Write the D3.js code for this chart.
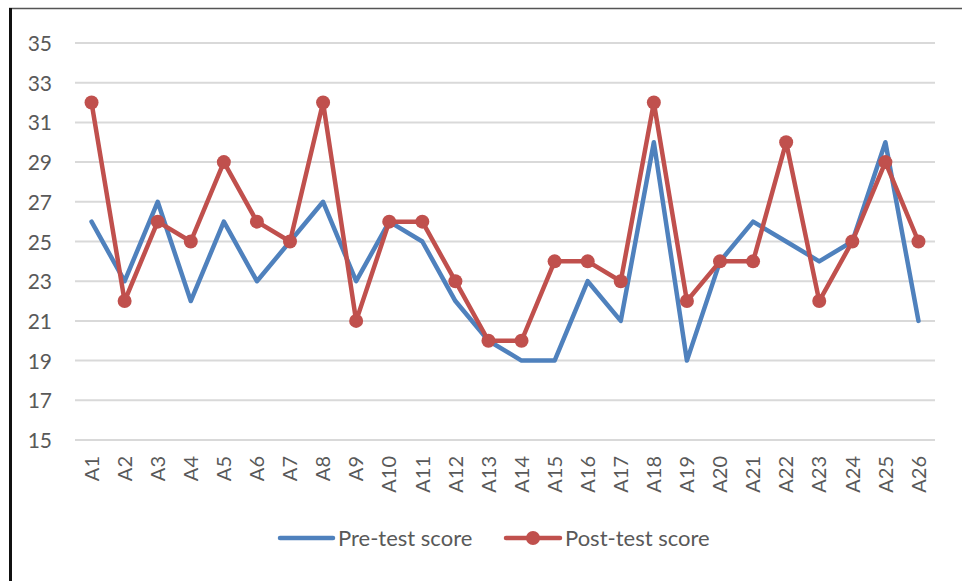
<!doctype html>
<html>
<head>
	<style>
		body{margin:0;background:#fff;}
		svg text{font-family:Lato, "Open Sans", sans-serif;fill:#595959;}
		.grid line{stroke:#d9d9d9;stroke-width:2;}
	</style>
</head>
<body>
	<div id="root"></div>
	<script src="https://d3js.org/d3.v7.min.js"></script>
	<script>
		var W = 962, H = 581;

		var categories = ['A1','A2','A3','A4','A5','A6','A7','A8','A9','A10','A11','A12','A13',
			'A14','A15','A16','A17','A18','A19','A20','A21','A22','A23','A24','A25','A26'];
		var preScores  = [26,23,27,22,26,23,25,27,23,26,25,22,20,19,19,23,21,30,19,24,26,25,24,25,30,21];
		var postScores = [32,22,26,25,29,26,25,32,21,26,26,23,20,20,24,24,23,32,22,24,24,30,22,25,29,25];
		var yTicks = [15,17,19,21,23,25,27,29,31,33,35];
		var seriesNames = ['Pre-test score', 'Post-test score'];

		var BLUE = '#4f81bd', RED = '#c0504d';

		var svg = d3.select('#root').append('svg')
			.attr('width', W)
			.attr('height', H);

		// frame (top + left edges only visible)
		svg.append('line').attr('x1', 9).attr('x2', W).attr('y1', 8.5).attr('y2', 8.5)
			.attr('stroke', '#555').attr('stroke-width', 1.5);
		svg.append('line').attr('x1', 10.5).attr('x2', 10.5).attr('y1', 8).attr('y2', H)
			.attr('stroke', '#111').attr('stroke-width', 3);

		var x = d3.scaleBand().domain(categories).range([75, 935]);
		var y = d3.scaleLinear().domain([15, 35]).range([440, 43]);

		// gridlines
		svg.append('g').attr('class', 'grid')
			.selectAll('line').data(yTicks).enter().append('line')
			.attr('x1', 75).attr('x2', 935)
			.attr('y1', function(d){ return y(d); })
			.attr('y2', function(d){ return y(d); });

		// y labels
		var yAxis = svg.append('g')
			.attr('transform', 'translate(52,0)')
			.call(d3.axisLeft(y).tickValues(yTicks).tickSize(0).tickPadding(0));
		yAxis.select('.domain').remove();
		yAxis.selectAll('text').attr('font-size', 21).attr('dy', '0.36em')
			.style('font-family', 'Lato, sans-serif').attr('fill', '#595959');

		// x labels
		var xAxis = svg.append('g')
			.attr('transform', 'translate(0,456)')
			.call(d3.axisBottom(x).tickSize(0).tickPadding(0));
		xAxis.select('.domain').remove();
		xAxis.selectAll('text')
			.attr('font-size', 20)
			.style('font-family', 'Lato, sans-serif')
			.attr('fill', '#595959')
			.attr('text-anchor', 'end')
			.attr('transform', 'rotate(-90)')
			.attr('x', 0).attr('y', 0).attr('dy', '0.36em');

		function cx(d, i){ return x(categories[i]) + x.bandwidth() / 2; }

		var line = d3.line()
			.x(function(d, i){ return cx(d, i); })
			.y(function(d){ return y(d); });

		svg.append('path').datum(preScores)
			.attr('d', line).attr('fill', 'none')
			.attr('stroke', BLUE).attr('stroke-width', 4.5)
			.attr('stroke-linejoin', 'round').attr('stroke-linecap', 'round');

		svg.append('path').datum(postScores)
			.attr('d', line).attr('fill', 'none')
			.attr('stroke', RED).attr('stroke-width', 4.5)
			.attr('stroke-linejoin', 'round');

		svg.append('g').selectAll('circle').data(postScores).enter().append('circle')
			.attr('cx', cx).attr('cy', function(d){ return y(d); })
			.attr('r', 7).attr('fill', RED);

		// legend
		var leg = svg.append('g');
		leg.append('line').attr('x1', 280).attr('x2', 333).attr('y1', 538).attr('y2', 538)
			.attr('stroke', BLUE).attr('stroke-width', 4.5).attr('stroke-linecap', 'round');
		leg.append('text').attr('x', 338).attr('y', 538).attr('dy', '0.36em')
			.attr('font-size', 22).text(seriesNames[0]);
		leg.append('line').attr('x1', 506).attr('x2', 560).attr('y1', 538).attr('y2', 538)
			.attr('stroke', RED).attr('stroke-width', 4.5).attr('stroke-linecap', 'round');
		leg.append('circle').attr('cx', 533).attr('cy', 538).attr('r', 7).attr('fill', RED);
		leg.append('text').attr('x', 565).attr('y', 538).attr('dy', '0.36em')
			.attr('font-size', 22).text(seriesNames[1]);
	</script>
</body>
</html>
